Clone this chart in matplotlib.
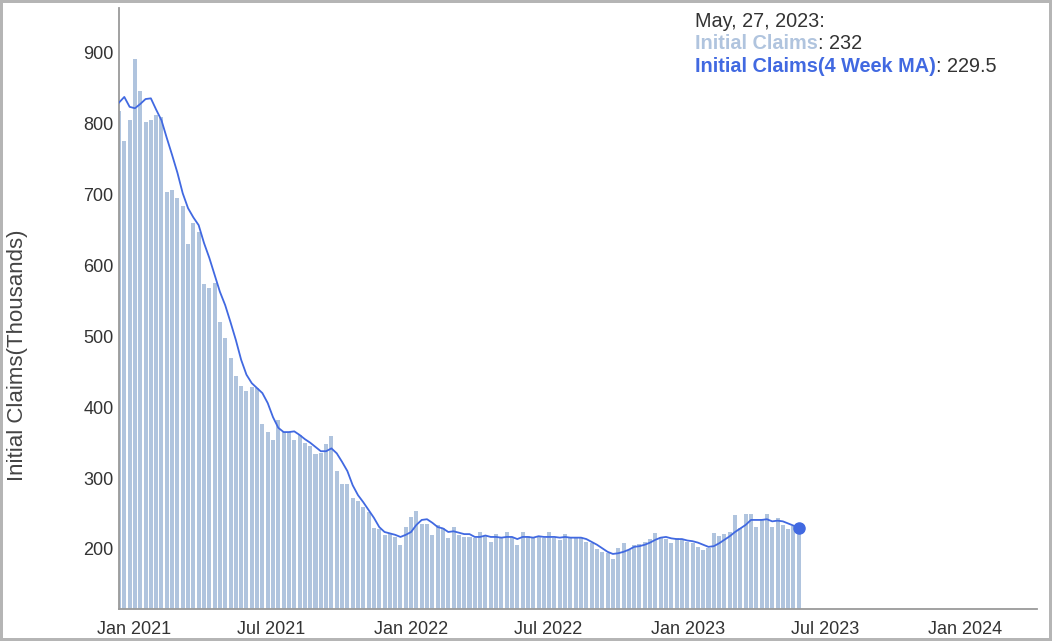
import numpy as np
import pandas as pd
import matplotlib
matplotlib.use("Agg")
import matplotlib.pyplot as plt

plt.rcParams['font.family'] = ['Liberation Sans', 'DejaVu Sans']

# weekly initial claims (thousands), last week ending May 27, 2023
claims = [818, 776, 805, 892, 846, 802, 805, 813, 810, 704, 707, 696, 684, 630, 660, 647, 574, 568, 576, 520, 498, 470,
          444, 430, 423, 429, 427, 376, 365, 354, 382, 365, 365, 354, 361, 350, 345, 334, 336, 348, 360, 310, 292, 292,
          272, 268, 259, 252, 229, 228, 220, 222, 217, 206, 231, 245, 254, 235, 235, 220, 234, 229, 216, 231, 220,
          217, 217, 215, 224, 219, 210, 221, 215, 224, 217, 206, 224, 219, 217, 218, 215, 224, 215, 213, 221, 217, 216,
          216, 210, 208, 200, 196, 194, 186, 201, 209, 199, 206, 207, 210, 214, 222, 217, 214, 209, 215, 213, 210, 208,
          203, 198, 201, 223, 219, 221, 224, 248, 230, 250, 249, 231, 242, 249, 231, 244, 234, 228, 232, 232]

# 4 week moving average as drawn on the chart
claims_ma4 = [830, 838, 824, 822, 828, 835, 836, 820, 805, 780, 756, 731, 702, 681, 668, 657, 632, 611, 587, 563, 544, 520,
              495, 467, 446, 434, 427, 420, 406, 386, 371, 365, 365, 366, 361, 355, 350, 344, 338, 338, 342, 335, 323, 310,
              290, 276, 266, 255, 244, 231, 224, 222, 220, 217, 220, 224, 234, 241, 242, 237, 231, 229, 224, 225, 223,
              221, 221, 217, 217, 219, 217, 217, 216, 217, 217, 214, 217, 217, 216, 218, 217, 217, 217, 216, 217, 216, 216,
              216, 214, 210, 206, 201, 196, 193, 194, 196, 199, 203, 204, 206, 209, 213, 216, 217, 215, 214, 214, 212, 211,
              209, 206, 203, 204, 208, 213, 218, 224, 229, 234, 241, 241, 241, 242, 239, 240, 239, 236, 233, 229.5]

last_date = "2023-05-27"
week_end = pd.date_range(end=last_date, periods=len(claims), freq="7D")

tick_dates = pd.to_datetime(["2021-01-01", "2021-07-01", "2022-01-01", "2022-07-01",
                             "2023-01-01", "2023-07-01", "2024-01-01"])
tick_labels = ["Jan 2021", "Jul 2021", "Jan 2022", "Jul 2022", "Jan 2023", "Jul 2023", "Jan 2024"]
y_ticks = [200, 300, 400, 500, 600, 700, 800, 900]

bar_color = "#b0c4de"
line_color = "#4169e1"
text_color = "#333333"

fig = plt.figure(figsize=(10.52, 6.41), dpi=100)
fig.patch.set_edgecolor("#b5b5b5")
fig.patch.set_linewidth(3)
ax = fig.add_axes([119 / 1052, 1 - 609 / 641, 918 / 1052, 601 / 641])

ax.bar(week_end, claims, width=5.3, color=bar_color, align="center", zorder=2)
ax.plot(week_end, claims_ma4, color=line_color, lw=1.3, zorder=3)
ax.plot(week_end[-1], claims_ma4[-1], "o", ms=8, color=line_color, zorder=4)

ax.set_xlim(week_end[0], week_end[0] + pd.Timedelta(days=1210))
ax.set_ylim(115.3, 963.5)

ax.set_xticks(tick_dates)
ax.set_xticklabels(tick_labels)
ax.set_yticks(y_ticks)
ax.tick_params(axis="both", length=0, labelsize=13, colors=text_color)
ax.tick_params(axis="y", pad=4)
ax.tick_params(axis="x", pad=9)

for side in ["top", "right"]:
    ax.spines[side].set_visible(False)
for side in ["left", "bottom"]:
    ax.spines[side].set_color("#9a9a9a")
    ax.spines[side].set_linewidth(1.3)

fig.text(18 / 1052, 1 - 355 / 641, "Initial Claims(Thousands)", rotation=90,
         ha="center", va="center", fontsize=16, color="#444444")

# hover-style readout in the top right
fs = 14.3
x0 = 695 / 1052
fig.text(x0, 1 - 26.7 / 641, "May, 27, 2023:", fontsize=fs, color=text_color, va="baseline")
t1 = fig.text(x0, 1 - 49.3 / 641, "Initial Claims", fontsize=fs, color=bar_color,
              fontweight="bold", va="baseline")
ax.annotate(f": {claims[-1]:g}", xy=(1, 0), xycoords=t1, fontsize=fs, color=text_color,
            va="bottom", ha="left")
t2 = fig.text(x0, 1 - 71.7 / 641, "Initial Claims(4 Week MA)", fontsize=fs, color=line_color,
              fontweight="bold", va="baseline")
ax.annotate(f": {claims_ma4[-1]:g}", xy=(1, 0), xycoords=t2, fontsize=fs, color=text_color,
            va="bottom", ha="left")

fig.savefig("out.png", dpi=100)
